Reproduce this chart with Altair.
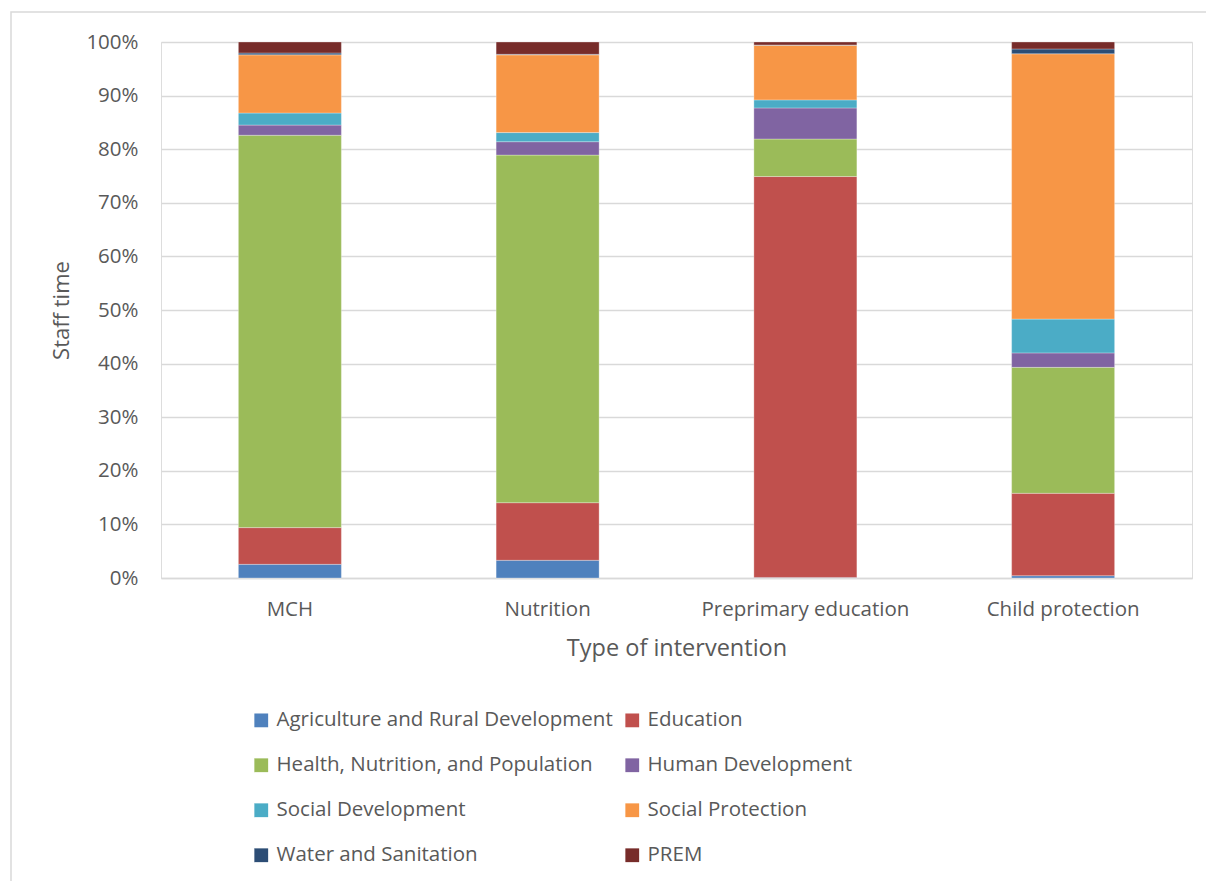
import altair as alt
import pandas as pd

interventions = ["MCH", "Nutrition", "Preprimary education", "Child protection"]
sectors = [
    "Agriculture and Rural Development",
    "Education",
    "Health, Nutrition, and Population",
    "Human Development",
    "Social Development",
    "Social Protection",
    "Water and Sanitation",
    "PREM",
]
colors = ["#4F81BD", "#C0504D", "#9BBB59", "#8064A2", "#4BACC6", "#F79646", "#2C4D75", "#772C2A"]

# staff time share (%) per intervention, in sector order
mch = [2.55, 6.85, 73.2, 1.9, 2.25, 10.85, 0.35, 2.05]
nutrition = [3.3, 10.75, 64.85, 2.5, 1.7, 14.5, 0.1, 2.3]
preprimary = [0.1, 74.8, 7.0, 5.8, 1.5, 10.2, 0.05, 0.55]
child_protection = [0.43, 15.37, 23.5, 2.7, 6.3, 49.5, 0.9, 1.3]

series = [mch, nutrition, preprimary, child_protection]
rows = []
for iv, vals in zip(interventions, series):
    for i, (s, v) in enumerate(zip(sectors, vals)):
        rows.append({"intervention": iv, "sector": s, "value": v, "order": i})
df = pd.DataFrame(rows)

FONT = "Open Sans"
TXT = "#595959"

bars = alt.Chart(df).mark_bar(size=103, stroke="white", strokeWidth=0.6, strokeOpacity=0.5).encode(
    x=alt.X("intervention:N", sort=interventions,
            scale=alt.Scale(paddingInner=0, paddingOuter=0),
            axis=alt.Axis(title="Type of intervention", labelAngle=0, labelPadding=21,
                          labelFontSize=20.5, titleFontSize=23.5, titlePadding=17,
                          labelColor=TXT, titleColor=TXT, titleFontWeight="normal",
                          ticks=False, domainColor="#D9D9D9", domainWidth=1.5,
                          labelFont=FONT, titleFont=FONT, labelLimit=400)),
    y=alt.Y("value:Q", stack="zero",
            scale=alt.Scale(domain=[0, 100]),
            axis=alt.Axis(title="Staff time", values=list(range(0, 101, 10)),
                          labelExpr="datum.value + '%'", labelPadding=23,
                          labelFontSize=20.5, titleFontSize=22, titlePadding=12,
                          labelColor=TXT, titleColor=TXT, titleFontWeight="normal",
                          ticks=False, domain=False, gridColor="#D9D9D9", gridWidth=1.5,
                          labelFont=FONT, titleFont=FONT)),
    color=alt.Color("sector:N", sort=sectors,
                    scale=alt.Scale(domain=sectors, range=colors),
                    legend=alt.Legend(title=None, orient="none", legendX=90, legendY=668,
                                      direction="horizontal",
                                      columns=2, symbolType="square", symbolSize=190,
                                      symbolStrokeWidth=0, labelFontSize=20.5, labelFont=FONT,
                                      labelColor=TXT, rowPadding=24, columnPadding=9,
                                      labelLimit=500, symbolOffset=0, labelOffset=5)),
    order=alt.Order("order:Q", sort="ascending"),
)

frame = alt.Chart(pd.DataFrame({"a": [0]})).mark_rect(
    fill=None, stroke="#D9D9D9", strokeWidth=1.5
).encode(x=alt.value(-150), x2=alt.value(1100), y=alt.value(-30), y2=alt.value(900))

chart = alt.layer(frame, bars).properties(
    width=1031, height=536,
    autosize=alt.AutoSizeParams(type="none"),
    padding={"left": 161, "top": 42, "right": 14, "bottom": 303},
).configure_view(stroke=None).configure(background="white")

chart.save("out.html", embed_options={"renderer": "svg", "actions": False})
